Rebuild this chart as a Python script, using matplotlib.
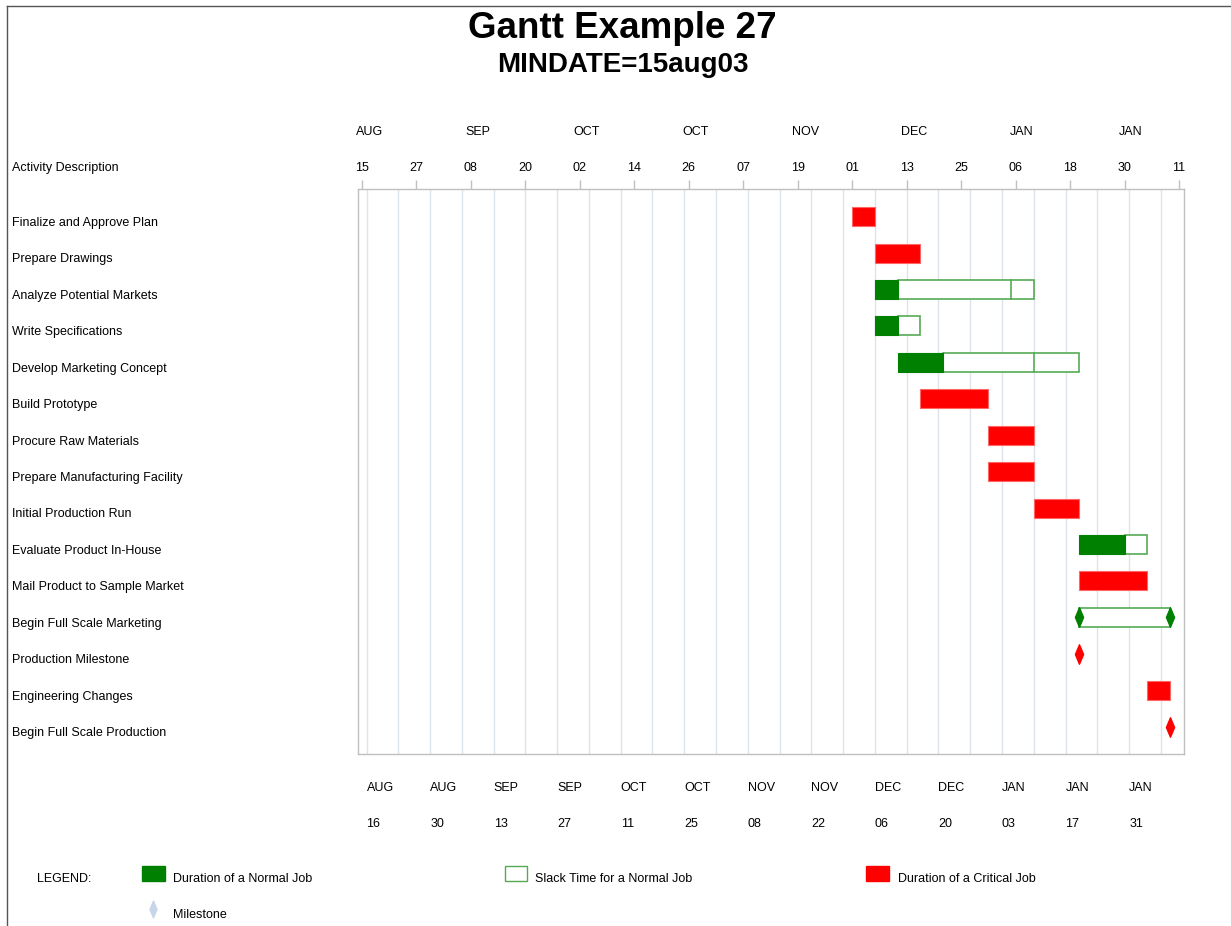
import matplotlib
matplotlib.use('Agg')
import matplotlib.pyplot as plt
import matplotlib.dates as mdates
import matplotlib.transforms as mtransforms
from matplotlib.patches import Rectangle
from matplotlib.path import Path
from datetime import datetime

plt.rcParams['font.family'] = ['Liberation Sans', 'DejaVu Sans']

# Activity data (schedule)
activities = [
    'Finalize and Approve Plan', 'Prepare Drawings', 'Analyze Potential Markets',
    'Write Specifications', 'Develop Marketing Concept', 'Build Prototype',
    'Procure Raw Materials', 'Prepare Manufacturing Facility', 'Initial Production Run',
    'Evaluate Product In-House', 'Mail Product to Sample Market',
    'Begin Full Scale Marketing', 'Production Milestone', 'Engineering Changes',
    'Begin Full Scale Production',
]
early_start = ['2003-12-01', '2003-12-06', '2003-12-06', '2003-12-06', '2003-12-11',
               '2003-12-16', '2003-12-31', '2003-12-31', '2004-01-10', '2004-01-20',
               '2004-01-20', '2004-01-20', '2004-01-20', '2004-02-04', '2004-02-09']
early_finish = ['2003-12-06', '2003-12-16', '2003-12-11', '2003-12-11', '2003-12-21',
                '2003-12-31', '2004-01-10', '2004-01-10', '2004-01-20', '2004-01-30',
                '2004-02-04', '2004-01-20', '2004-01-20', '2004-02-09', '2004-02-09']
late_start = ['2003-12-01', '2003-12-06', '2004-01-05', '2003-12-11', '2004-01-10',
              '2003-12-16', '2003-12-31', '2003-12-31', '2004-01-10', '2004-01-25',
              '2004-01-20', '2004-02-09', '2004-01-20', '2004-02-04', '2004-02-09']
late_finish = ['2003-12-06', '2003-12-16', '2004-01-10', '2003-12-16', '2004-01-20',
               '2003-12-31', '2004-01-10', '2004-01-10', '2004-01-20', '2004-02-04',
               '2004-02-04', '2004-02-09', '2004-01-20', '2004-02-09', '2004-02-09']
critical = [True, True, False, False, False, True, True, True, True, False,
            True, False, True, True, True]

# Axis tick dates
top_ticks = ['2003-08-15', '2003-08-27', '2003-09-08', '2003-09-20', '2003-10-02',
             '2003-10-14', '2003-10-26', '2003-11-07', '2003-11-19', '2003-12-01',
             '2003-12-13', '2003-12-25', '2004-01-06', '2004-01-18', '2004-01-30',
             '2004-02-11']
bottom_ticks = ['2003-08-16', '2003-08-30', '2003-09-13', '2003-09-27', '2003-10-11',
                '2003-10-25', '2003-11-08', '2003-11-22', '2003-12-06', '2003-12-20',
                '2004-01-03', '2004-01-17', '2004-01-31']
grid_dates = ['2003-08-16', '2003-08-23', '2003-08-30', '2003-09-06', '2003-09-13',
              '2003-09-20', '2003-09-27', '2003-10-04', '2003-10-11', '2003-10-18',
              '2003-10-25', '2003-11-01', '2003-11-08', '2003-11-15', '2003-11-22',
              '2003-11-29', '2003-12-06', '2003-12-13', '2003-12-20', '2003-12-27',
              '2004-01-03', '2004-01-10', '2004-01-17', '2004-01-24', '2004-01-31',
              '2004-02-07']


def d(s):
    return mdates.date2num(datetime.strptime(s, '%Y-%m-%d'))


GREEN = '#008000'
SLACK_EDGE = '#55aa55'
RED = '#ff0000'
GRID = '#dde3ec'
FRAME = '#c0c0c0'

W, H = 1231, 926
DY = 2  # small downward nudge for text (px)
fig = plt.figure(figsize=(W / 100, H / 100), dpi=100)

# main chart area
ax = fig.add_axes([358 / W, 1 - 754 / H, (1184 - 358) / W, (754 - 189) / H])
ax.set_xlim(d('2003-08-15') - 0.88, d('2004-02-11') + 1.1)
ax.set_ylim(14.63, -0.88)
for s in ax.spines.values():
    s.set_color(FRAME)
    s.set_linewidth(1)
ax.set_yticks([])
ax.xaxis.set_ticks_position('top')
ax.set_xticks([d(t) for t in top_ticks])
ax.set_xticklabels([])
ax.tick_params(axis='x', length=6.5, color=FRAME, width=1)

for g in grid_dates:
    ax.axvline(d(g), color=GRID, lw=1, zorder=0)

diamond = Path([(0, 1), (0.42, 0), (0, -1), (-0.42, 0), (0, 1)],
               [Path.MOVETO, Path.LINETO, Path.LINETO, Path.LINETO, Path.CLOSEPOLY])

bar_h = 0.52
off = -0.12
for i in range(len(activities)):
    es, ef = d(early_start[i]), d(early_finish[i])
    ls, lf = d(late_start[i]), d(late_finish[i])
    y = i + off
    color = RED if critical[i] else GREEN
    if not critical[i] and lf > ef:
        ax.add_patch(Rectangle((ef, y - bar_h / 2), lf - ef, bar_h, facecolor='white',
                               edgecolor=SLACK_EDGE, lw=1.2, zorder=2))
        if ls > ef and ls < lf:
            ax.plot([ls, ls], [y - bar_h / 2, y + bar_h / 2], color=SLACK_EDGE, lw=1.2, zorder=3)
    if ef > es:
        ax.barh(y, ef - es, left=es, height=bar_h, color=color,
                edgecolor='#ff6666' if critical[i] else GREEN, lw=0.8, zorder=3)
    else:
        ax.plot([es], [y], marker=diamond, markersize=14, color=color, linestyle='none', zorder=4)
        if not critical[i] and lf > ef:
            ax.plot([lf], [y], marker=diamond, markersize=14, color=color, linestyle='none', zorder=4)

# axis labels
top_trans = mtransforms.blended_transform_factory(ax.transData, ax.transAxes)
month_trans = mtransforms.offset_copy(top_trans, fig=fig, x=-6, y=0, units='dots')
for k, t in enumerate(top_ticks):
    dt = datetime.strptime(t, '%Y-%m-%d')
    ax.text(d(t), (754 - 166 - DY) / 565, dt.strftime('%d'), transform=top_trans,
            ha='center', va='center', fontsize=9)
    if k % 2 == 0 and k < len(top_ticks) - 1:
        ax.text(d(t), (754 - 130 - DY) / 565, dt.strftime('%b').upper(), transform=month_trans,
                ha='left', va='center', fontsize=9)
for t in bottom_ticks:
    dt = datetime.strptime(t, '%Y-%m-%d')
    ax.text(d(t), (754 - 786 - DY) / 565, dt.strftime('%b').upper(), transform=top_trans,
            ha='left', va='center', fontsize=9)
    ax.text(d(t), (754 - 822 - DY) / 565, dt.strftime('%d'), transform=top_trans,
            ha='left', va='center', fontsize=9)

label_trans = mtransforms.blended_transform_factory(fig.transFigure, ax.transData)
for i, name in enumerate(activities):
    ax.text(12 / W, i + DY / 36.43, name, transform=label_trans, ha='left', va='center', fontsize=9)

# overlay in pixel coordinates for titles, frame and legend
ov = fig.add_axes([0, 0, 1, 1], zorder=-1)
ov.set_xlim(0, W)
ov.set_ylim(H, 0)
ov.axis('off')
ov.plot([7, 7], [6, H], color='#555555', lw=1)
ov.plot([7, W], [6, 6], color='#555555', lw=1)

ov.text(622, 26 + DY, 'Gantt Example 27', ha='center', va='center', fontsize=26.5, fontweight='bold')
ov.text(623, 63 + DY, 'MINDATE=15aug03', ha='center', va='center', fontsize=20, fontweight='bold')
ov.text(12, 166 + DY, 'Activity Description', ha='left', va='center', fontsize=9)

ov.text(37, 877 + DY, 'LEGEND:', ha='left', va='center', fontsize=9)
ov.add_patch(Rectangle((142, 866), 23, 15, facecolor=GREEN, edgecolor=GREEN))
ov.text(173, 877 + DY, 'Duration of a Normal Job', ha='left', va='center', fontsize=9)
ov.add_patch(Rectangle((505, 866), 22, 15, facecolor='white', edgecolor=SLACK_EDGE, lw=1))
ov.text(535, 877 + DY, 'Slack Time for a Normal Job', ha='left', va='center', fontsize=9)
ov.add_patch(Rectangle((866, 866), 23, 15, facecolor=RED, edgecolor=RED))
ov.text(898, 877 + DY, 'Duration of a Critical Job', ha='left', va='center', fontsize=9)
ov.plot([153], [909], marker=diamond, markersize=12, color='#c8d4e8', linestyle='none')
ov.text(173, 913 + DY, 'Milestone', ha='left', va='center', fontsize=9)

fig.savefig('out.png', dpi=100)
